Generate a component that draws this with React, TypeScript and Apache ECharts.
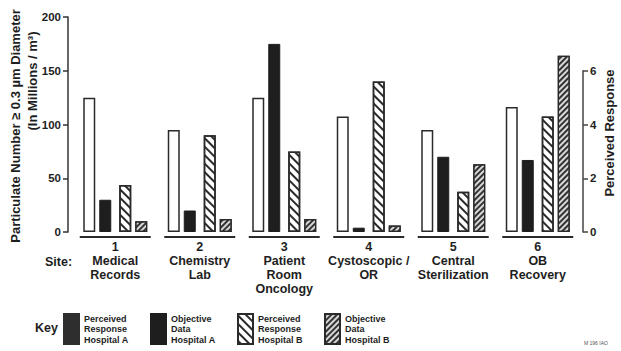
import React, { useEffect, useRef } from 'react';
import * as echarts from 'echarts';

const categories = [
  '1\nMedical\nRecords',
  '2\nChemistry\nLab',
  '3\nPatient\nRoom\nOncology',
  '4\nCystoscopic /\nOR',
  '5\nCentral\nSterilization',
  '6\nOB\nRecovery',
];
// Perceived response (right axis, 0-6 scale)
const perceivedA = [5.0, 3.8, 5.0, 4.3, 3.8, 4.65];
const perceivedB = [1.75, 3.6, 3.0, 5.6, 1.5, 4.3];
// Objective data (left axis, millions / m3)
const objectiveA = [30, 20, 175, 4, 70, 67];
const objectiveB = [10, 12, 12, 6, 63, 164];

const seriesNames = [
  'Perceived\nResponse\nHospital A',
  'Objective\nData\nHospital A',
  'Perceived\nResponse\nHospital B',
  'Objective\nData\nHospital B',
];
const leftTitle1 = 'Particulate Number \u2265 0.3 \u00b5m Diameter';
const leftTitle2 = '(In Millions / m\u00b3)';
const rightTitle = 'Perceived Response';

const FONT = '"Liberation Sans", Arial, Helvetica, sans-serif';
const INK = '#1e1e1e';

export default function App() {
  const ref = useRef<HTMLDivElement>(null);
  useEffect(() => {
    if (!ref.current) return;
    const chart = echarts.init(ref.current, null, { renderer: 'svg' });
    const barCommon = { type: 'bar', barWidth: 12, barGap: '33.3%', barCategoryGap: '20%' };
    chart.setOption({
      animation: false,
      backgroundColor: '#ffffff',
      textStyle: { fontFamily: FONT },
      grid: [
        { left: 73, right: 41, top: 17, bottom: 119 },
        { left: 73, right: 41, top: 70.75, bottom: 119 },
      ],
      xAxis: [
        {
          type: 'category',
          gridIndex: 0,
          data: categories,
          axisLine: { show: false },
          axisTick: { show: false },
          axisLabel: {
            interval: 0,
            fontSize: 12.5,
            fontWeight: 'bold',
            lineHeight: 14,
            margin: 8,
            color: INK,
            fontFamily: FONT,
          },
        },
        { type: 'category', gridIndex: 1, data: categories, show: false },
      ],
      yAxis: [
        {
          type: 'value',
          gridIndex: 0,
          min: 0,
          max: 200,
          interval: 50,
          position: 'left',
          offset: 5,
          axisLine: { show: true, lineStyle: { color: '#333', width: 1.5 } },
          axisTick: { show: true, length: 5, lineStyle: { color: '#333', width: 1.5 } },
          axisLabel: { fontSize: 11.5, fontWeight: 'bold', color: INK, margin: 7, fontFamily: FONT },
          splitLine: { show: false },
        },
        { type: 'value', gridIndex: 0, min: 0, max: 8, show: false, splitLine: { show: false } },
        {
          type: 'value',
          gridIndex: 1,
          min: 0,
          max: 6,
          interval: 2,
          position: 'right',
          offset: 3,
          axisLine: { show: true, lineStyle: { color: '#444', width: 1.5 } },
          axisTick: { show: true, length: 5, lineStyle: { color: '#444', width: 1.5 } },
          axisLabel: { fontSize: 11.5, fontWeight: 'bold', color: INK, margin: 7, fontFamily: FONT },
          splitLine: { show: false },
        },
      ],
      legend: {
        left: 63,
        top: 313,
        padding: 0,
        orient: 'horizontal',
        icon: 'rect',
        itemWidth: 15,
        itemHeight: 30,
        itemGap: 11,
        selectedMode: false,
        textStyle: { fontSize: 9, fontWeight: 'bold', lineHeight: 10.5, color: INK, width: 55, fontFamily: FONT },
        data: [
          { name: seriesNames[0], itemStyle: { color: '#2e2e2e', borderColor: '#2e2e2e' } },
          seriesNames[1],
          seriesNames[2],
          seriesNames[3],
        ],
      },
      graphic: [
        { type: 'text', left: 35, top: 321, style: { text: 'Key', fontSize: 12.5, fontWeight: 'bold', fill: INK, fontFamily: FONT } },
        { type: 'text', left: 45, top: 255, style: { text: 'Site:', fontSize: 12.5, fontWeight: 'bold', fill: INK, fontFamily: FONT } },
        {
          type: 'text', x: 15, y: 126, rotation: Math.PI / 2,
          style: { text: leftTitle1, fontSize: 13, fontWeight: 'bold', fill: INK, align: 'center', verticalAlign: 'middle', fontFamily: FONT },
        },
        {
          type: 'text', x: 32, y: 81, rotation: Math.PI / 2,
          style: { text: leftTitle2, fontSize: 13, fontWeight: 'bold', fill: INK, align: 'center', verticalAlign: 'middle', fontFamily: FONT },
        },
        {
          type: 'text', x: 609, y: 133, rotation: Math.PI / 2,
          style: { text: rightTitle, fontSize: 13, fontWeight: 'bold', fill: INK, align: 'center', verticalAlign: 'middle', fontFamily: FONT },
        },
        { type: 'text', left: 584, top: 340, style: { text: 'M 196 IAO', fontSize: 5, fill: '#555', fontFamily: FONT } },
      ],
      series: [
        {
          ...barCommon,
          name: seriesNames[0],
          yAxisIndex: 1,
          data: perceivedA,
          itemStyle: { color: '#ffffff', borderColor: '#2a2a2a', borderWidth: 1.5 },
        },
        {
          ...barCommon,
          name: seriesNames[1],
          yAxisIndex: 0,
          data: objectiveA,
          itemStyle: { color: '#1e1e1e', borderColor: '#1e1e1e', borderWidth: 1 },
        },
        { type: 'bar', name: 'spacer', barWidth: 3, barGap: '33.3%', data: [], silent: true },
        {
          ...barCommon,
          name: seriesNames[2],
          yAxisIndex: 1,
          data: perceivedB,
          itemStyle: {
            color: '#ffffff',
            borderColor: '#2a2a2a',
            borderWidth: 1.5,
            decal: { symbol: 'rect', symbolSize: 1, dashArrayX: [1, 0], dashArrayY: [1.6, 4], rotation: Math.PI / 4, color: '#2a2a2a' },
          },
        },
        {
          ...barCommon,
          name: seriesNames[3],
          yAxisIndex: 0,
          data: objectiveB,
          itemStyle: {
            color: '#d8d8d8',
            borderColor: '#2a2a2a',
            borderWidth: 1.2,
            decal: { symbol: 'rect', symbolSize: 1, dashArrayX: [1, 0], dashArrayY: [1.2, 1.5], rotation: -Math.PI / 4, color: '#333' },
          },
        },
        {
          type: 'custom',
          name: 'underline',
          xAxisIndex: 0,
          yAxisIndex: 0,
          clip: false,
          silent: true,
          data: categories.map((_, i) => [i, 0]),
          renderItem: (params: any, api: any) => {
            const p = api.coord([api.value(0), 0]);
            const band = api.size([1, 0])[0];
            return {
              type: 'line',
              shape: { x1: p[0] - band * 0.42, y1: p[1] + 5, x2: p[0] + band * 0.42, y2: p[1] + 5 },
              style: { stroke: '#2a2a2a', lineWidth: 2 },
            };
          },
        },
      ],
    });
    return () => chart.dispose();
  }, []);
  return <div ref={ref} style={{ position: 'absolute', left: 0, top: 0, width: 621, height: 351 }} />;
}
